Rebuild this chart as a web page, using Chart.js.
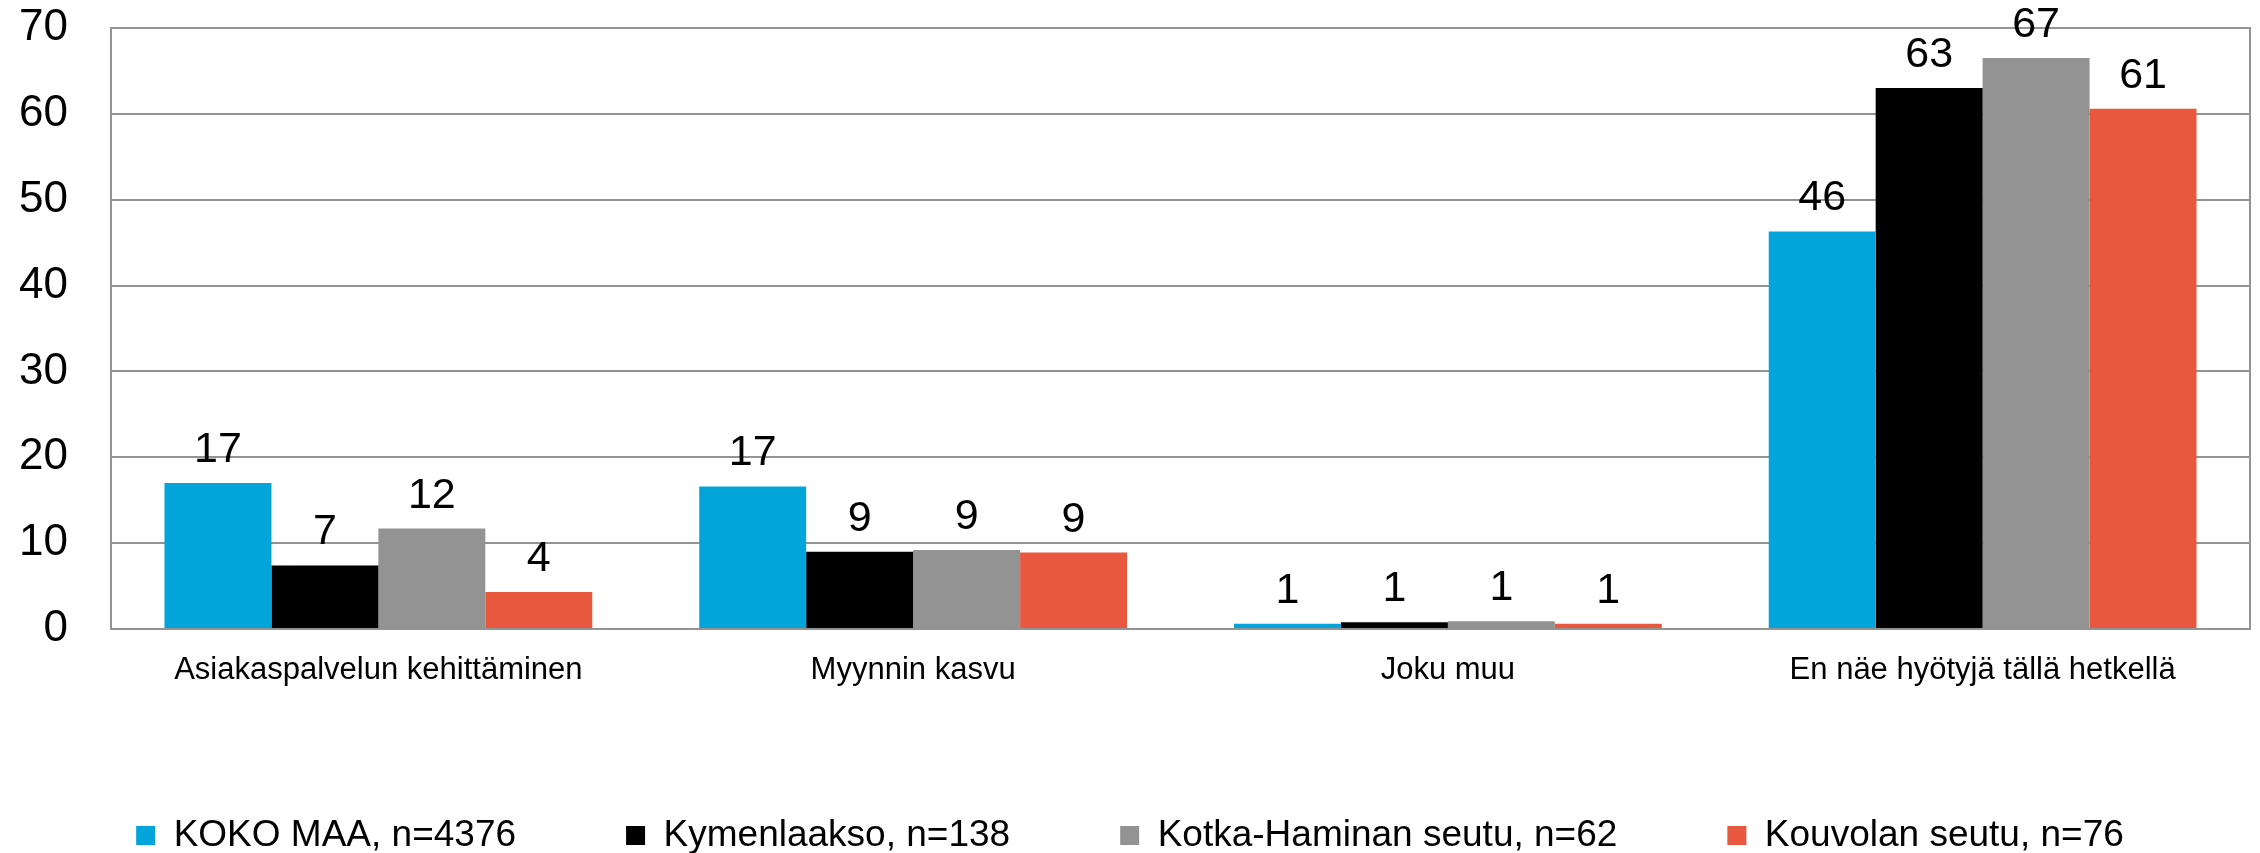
<!DOCTYPE html>
<html>
<head>
<meta charset="utf-8">
<script src="https://cdn.jsdelivr.net/npm/chart.js@4/dist/chart.umd.min.js"></script>
<style>
  html, body { margin: 0; padding: 0; background: #fff; overflow: hidden; }
  #wrap { width: 2260px; height: 853px; overflow: hidden; }
  #box { width: 2260px; height: 864px; }
</style>
</head>
<body>
<div id="wrap"><div id="box"><canvas id="chart"></canvas></div></div>
<script>
// Categories and series
const categories = ['Asiakaspalvelun kehittäminen', 'Myynnin kasvu', 'Joku muu', 'En näe hyötyjä tällä hetkellä'];
const seriesNames = ['KOKO MAA, n=4376', 'Kymenlaakso, n=138', 'Kotka-Haminan seutu, n=62', 'Kouvolan seutu, n=76'];
const kokoMaa = [17.0, 16.6, 0.6, 46.3];
const kymenlaakso = [7.4, 9.0, 0.8, 63.0];
const kotkaHamina = [11.7, 9.2, 0.9, 66.5];
const kouvola = [4.3, 8.9, 0.6, 60.6];
const yTicks = [0, 10, 20, 30, 40, 50, 60, 70];

const colors = ['#03a4da', '#000000', '#939393', '#e8583f'];
const gridColor = '#939393';
const fontFamily = '"Liberation Sans", Arial, sans-serif';

// value labels above the bars
const valueLabels = {
    id: 'valueLabels',
    afterDatasetsDraw(chart) {
        const ctx = chart.ctx;
        ctx.save();
        ctx.font = '43px ' + fontFamily;
        ctx.fillStyle = '#000';
        ctx.textAlign = 'center';
        ctx.textBaseline = 'alphabetic';
        chart.data.datasets.forEach((ds, i) => {
            chart.getDatasetMeta(i).data.forEach((bar, j) => {
                ctx.fillText(String(Math.round(ds.data[j])), bar.x, bar.y - 21);
            });
        });
        ctx.restore();
    }
};

const seriesData = [kokoMaa, kymenlaakso, kotkaHamina, kouvola];

new Chart(document.getElementById('chart'), {
    type: 'bar',
    data: {
        labels: categories,
        datasets: seriesData.map((d, i) => ({
            label: seriesNames[i],
            data: d,
            backgroundColor: colors[i],
            borderWidth: 0,
            categoryPercentage: 0.8,
            barPercentage: 1.0
        }))
    },
    options: {
        responsive: true,
        maintainAspectRatio: false,
        animation: false,
        layout: { padding: { top: 28, left: 0, right: 0, bottom: 0 } },
        plugins: {
            tooltip: { enabled: false },
            legend: {
                position: 'bottom',
                align: 'center',
                labels: {
                    boxWidth: 19,
                    boxHeight: 19,
                    padding: 110,
                    color: '#000',
                    font: { family: fontFamily, size: 37 }
                }
            }
        },
        scales: {
            x: {
                grid: { display: false },
                border: { display: true, color: gridColor, width: 2 },
                ticks: {
                    color: '#000',
                    padding: 15,
                    maxRotation: 0,
                    font: { family: fontFamily, size: 31 }
                },
                afterFit: s => { s.height = 78; }
            },
            y: {
                min: 0,
                max: 70,
                afterBuildTicks: s => { s.ticks = yTicks.map(v => ({ value: v })); },
                grid: { color: gridColor, lineWidth: 2, drawTicks: false },
                border: { display: true, color: gridColor, width: 2 },
                ticks: {
                    color: '#000',
                    padding: 43,
                    font: { family: fontFamily, size: 44 }
                },
                afterFit: s => {
                    s.width = 111;
                    s.paddingTop = 20;
                    s.paddingBottom = 20;
                }
            },
            yRight: {
                position: 'right',
                min: 0,
                max: 70,
                grid: { display: false, drawTicks: false },
                border: { display: true, color: gridColor, width: 2 },
                ticks: { display: false },
                afterFit: s => { s.width = 10; }
            }
        }
    },
    plugins: [valueLabels]
});
</script>
</body>
</html>
